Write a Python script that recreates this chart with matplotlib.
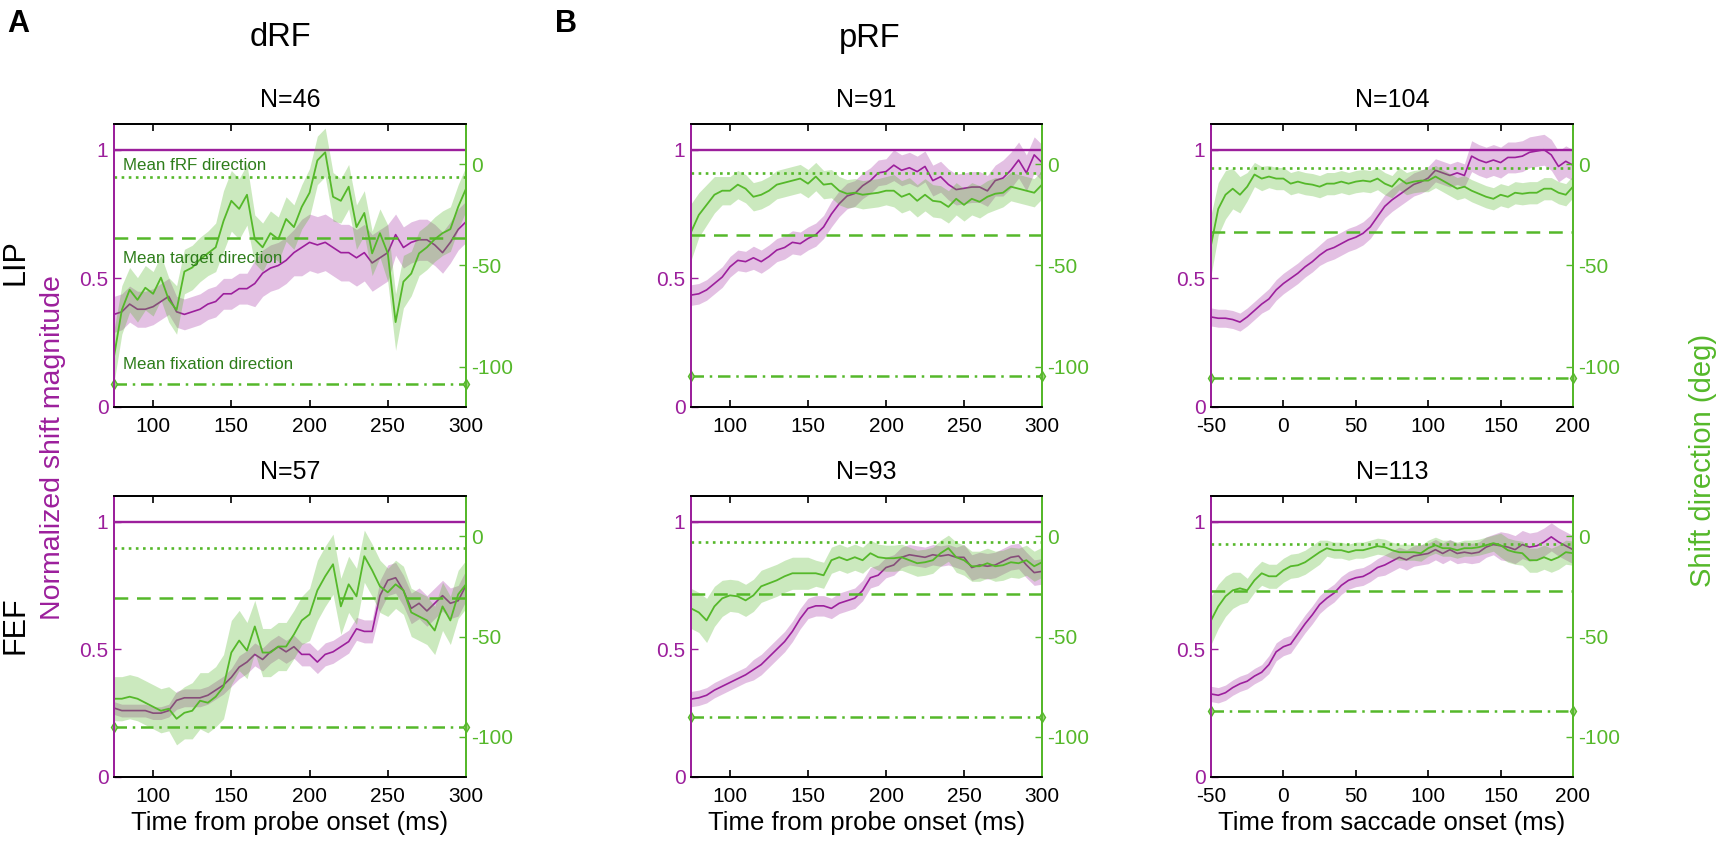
import numpy as np
import matplotlib
matplotlib.use("Agg")
import matplotlib.pyplot as plt

plt.rcParams['font.family'] = ['Liberation Sans', 'DejaVu Sans']
plt.rcParams['axes.unicode_minus'] = False

# ---------------- data ----------------
t_probe = np.arange(75, 301, 5)
t_sacc = np.arange(-50, 201, 5)

# dRF LIP (N=46)
drf_lip_mag = [.36, .37, .40, .38, .38, .39, .41, .43, .37, .36, .37, .38, .40, .41, .44, .44,
               .46, .46, .48, .52, .54, .55, .57, .60, .62, .64, .63, .64, .62, .60, .60, .58,
               .60, .56, .58, .60, .67, .62, .64, .65, .65, .63, .60, .64, .69, .72]
drf_lip_mag_err = [.07, .07, .07, .07, .07, .07, .07, .07, .06, .06, .06, .06, .06, .06, .06, .06,
                   .06, .06, .09, .09, .09, .09, .09, .09, .11, .11, .11, .11, .11, .11, .11, .11,
                   .11, .11, .11, .11, .08, .08, .08, .08, .08, .08, .08, .08, .08, .08]
drf_lip_dir = [-95, -72, -62, -67, -61, -64, -56, -67, -72, -53, -51, -47, -44, -41, -28, -18,
               -22, -15, -37, -41, -34, -37, -27, -31, -21, -14, 2, 6, -16, -18, -11, -31,
               -24, -44, -34, -44, -78, -58, -54, -44, -41, -37, -34, -32, -21, -12]
drf_lip_dir_err = [13, 12, 11, 11, 11, 11, 11, 11, 12, 11, 11, 11, 11, 12, 15, 15,
                   15, 15, 12, 12, 11, 11, 11, 11, 11, 12, 12, 12, 12, 11, 11, 11,
                   11, 11, 12, 14, 14, 13, 11, 11, 11, 11, 11, 11, 11, 11]

# dRF FEF (N=57)
drf_fef_mag = [.27, .26, .26, .26, .26, .25, .25, .26, .30, .31, .31, .31, .32, .34, .36, .39,
               .43, .45, .48, .46, .49, .51, .49, .51, .48, .48, .45, .48, .49, .51, .53, .58,
               .57, .57, .71, .77, .78, .73, .66, .68, .65, .68, .71, .68, .69, .75]
drf_fef_mag_err = [.025, .025, .025, .025, .025, .025, .025, .025, .035, .035, .035, .035, .035, .035, .035, .035,
                   .045, .045, .045, .045, .045, .045, .045, .045, .045, .045, .045, .045, .045, .045, .045, .045,
                   .045, .045, .06, .06, .06, .06, .06, .06, .06, .06, .06, .06, .06, .06]
drf_fef_dir = [-81, -81, -80, -81, -83, -85, -87, -86, -91, -88, -87, -82, -83, -80, -75, -58,
               -52, -57, -45, -58, -58, -55, -55, -49, -42, -39, -27, -20, -14, -35, -24, -30,
               -10, -17, -25, -28, -24, -27, -38, -40, -42, -47, -35, -42, -29, -24]
drf_fef_dir_err = [11, 11, 11, 11, 11, 11, 11, 11, 13, 13, 14, 14, 15, 15, 16, 16,
                   15, 14, 13, 12, 12, 12, 12, 12, 12, 13, 15, 15, 15, 14, 14, 14,
                   13, 13, 13, 12, 12, 12, 12, 12, 12, 12, 12, 12, 12, 12]

# pRF LIP, probe aligned (N=91)
prf_lip_p_mag = [.435, .44, .455, .48, .505, .545, .57, .565, .58, .565, .585, .61, .62, .64, .635, .655,
                 .67, .70, .75, .79, .82, .83, .86, .88, .91, .915, .94, .92, .93, .915, .935, .88,
                 .895, .865, .845, .85, .855, .855, .84, .88, .89, .92, .96, .91, .98, .95]
prf_lip_p_mag_err = [.04, .04, .04, .04, .04, .04, .04, .04, .045, .045, .045, .045, .045, .045, .045, .045,
                     .045, .045, .05, .05, .05, .05, .05, .05, .05, .05, .06, .06, .06, .06, .06, .06,
                     .06, .06, .06, .06, .06, .06, .06, .06, .07, .07, .07, .07, .07, .07]
prf_lip_p_dir = [-33.5, -25, -20, -15, -13, -13, -10, -12, -16, -15, -13, -10, -9, -8, -7, -9.5,
                 -6, -10, -9.5, -13, -14.5, -14, -15, -14.5, -14, -13, -13, -16, -14.5, -18, -15, -18,
                 -18.5, -21, -17, -20, -17, -18.5, -16, -14.5, -14, -11, -12, -13, -14, -10]
prf_lip_p_dir_err = [14, 11, 10, 9, 7, 7, 7, 7, 7, 7, 7, 7, 7, 7, 7, 7,
                     7, 7, 7, 7, 7, 7, 7, 7, 7, 7, 8, 8, 8, 8, 8, 8,
                     8, 8, 8, 8, 8, 8, 8, 8, 7, 7, 7, 7, 7, 7]

# pRF LIP, saccade aligned (N=104)
prf_lip_s_mag = [.35, .345, .345, .34, .33, .35, .375, .40, .42, .455, .48, .50, .52, .545, .565, .59,
                 .61, .62, .635, .65, .66, .675, .70, .74, .78, .805, .825, .845, .865, .875, .89, .92,
                 .91, .90, .91, .90, .975, .96, .95, .96, .95, .97, .97, .975, .99, .995, 1.0, .98,
                 .935, .955, .94]
prf_lip_s_mag_err = [.035, .035, .035, .035, .035, .035, .035, .035, .04, .04, .04, .04, .04, .04, .04, .04,
                     .045, .045, .045, .045, .045, .045, .045, .045, .045, .045, .045, .045, .045, .045, .045, .045,
                     .045, .045, .045, .045, .06, .06, .06, .06, .06, .06, .06, .06, .06, .06, .06, .06,
                     .06, .06, .06]
prf_lip_s_dir = [-40, -22, -15, -12, -15, -11, -5, -7, -6, -7, -7, -9.5, -8.5, -9.5, -10, -11,
                 -9.5, -9.5, -8.5, -9.5, -8.5, -8, -8.5, -7, -9.5, -11, -7, -9.5, -8.5, -8, -8, -6,
                 -8, -10, -12, -11, -13, -14.5, -16, -17, -15, -16, -14, -14.5, -14, -14, -12, -12,
                 -14, -15, -11]
prf_lip_s_dir_err = [15, 13, 12, 10, 9, 7, 6, 6, 5.5, 5.5, 5.5, 5.5, 5.5, 5.5, 5.5, 5.5,
                     5.5, 5.5, 5.5, 5.5, 5.5, 5.5, 5.5, 5.5, 5.5, 5.5, 5.5, 5.5, 5.5, 5.5, 5.5, 5.5,
                     5.5, 5.5, 5.5, 5.5, 5.5, 5.5, 5.5, 5.5, 5.5, 5.5, 5.5, 5.5, 5.5, 5.5, 5.5, 5.5,
                     5.5, 5.5, 5.5]

# pRF FEF, probe aligned (N=93)
prf_fef_p_mag = [.305, .31, .32, .34, .355, .37, .385, .40, .42, .44, .47, .50, .53, .57, .62, .66,
                 .67, .67, .66, .68, .69, .70, .73, .78, .79, .82, .83, .86, .87, .865, .86, .87,
                 .865, .87, .86, .86, .82, .83, .825, .83, .845, .86, .865, .83, .80, .805]
prf_fef_p_mag_err = [.03, .03, .03, .03, .03, .03, .03, .03, .04, .04, .04, .04, .04, .04, .04, .04,
                     .04, .04, .04, .04, .04, .04, .04, .04, .04, .04, .04, .04, .04, .04, .04, .04,
                     .04, .04, .04, .05, .05, .05, .05, .05, .05, .05, .05, .05, .05, .05]
prf_fef_p_dir = [-36, -38, -42, -35, -31, -29.5, -30, -32, -29.5, -25, -23.5, -22, -20, -18.5, -18.5, -18.5,
                 -18.5, -19.5, -12, -10.5, -12, -10.5, -12, -8.5, -10.5, -11, -11, -10.5, -12, -13.5, -13, -12,
                 -8.5, -6, -10.5, -12, -15, -15, -13.5, -15, -14.5, -13, -13.5, -12, -15, -13]
prf_fef_p_dir_err = [10, 10, 11, 10, 9, 8, 8, 8, 8, 8, 8, 8, 8, 8, 8, 8,
                     6.5, 6.5, 6.5, 6.5, 6.5, 6.5, 6.5, 6.5, 6.5, 6.5, 6.5, 6.5, 6.5, 6.5, 6.5, 6.5,
                     6.5, 6.5, 7.5, 7.5, 7.5, 7.5, 7.5, 7.5, 7.5, 7.5, 7.5, 7.5, 7.5, 7.5]

# pRF FEF, saccade aligned (N=113)
prf_fef_s_mag = [.325, .32, .33, .35, .365, .375, .395, .41, .44, .49, .51, .52, .56, .60, .635, .675,
                 .70, .72, .75, .77, .78, .785, .80, .82, .83, .845, .86, .85, .865, .87, .875, .89,
                 .875, .89, .875, .88, .875, .88, .90, .91, .905, .90, .89, .91, .90, .905, .92, .94,
                 .92, .905, .89]
prf_fef_s_mag_err = [.03, .03, .03, .03, .03, .03, .03, .03, .035, .035, .035, .035, .035, .035, .035, .035,
                     .035, .035, .035, .035, .035, .035, .035, .035, .04, .04, .04, .04, .04, .04, .04, .04,
                     .04, .04, .04, .04, .04, .04, .04, .04, .055, .055, .055, .055, .055, .055, .055, .055,
                     .055, .055, .055]
prf_fef_s_dir = [-42, -35, -30, -27, -26, -27, -22, -18.5, -20, -20, -17, -15, -14.5, -13, -10.5, -8,
                 -6, -7, -7, -8, -7, -7, -6, -5, -5.5, -7, -8, -8, -8, -8.5, -6, -4.5,
                 -6, -6, -7, -6, -6, -5.5, -4.5, -3.5, -4.5, -7, -8, -8.5, -12, -12, -10.5, -12,
                 -10.5, -8, -8.5]
prf_fef_s_dir_err = [12, 11, 10, 9, 8, 6, 6, 6, 6, 6, 6, 6, 6, 6, 6, 6,
                     4, 4, 4, 4, 4, 4, 4, 4, 4, 4, 4, 4, 4, 4, 4, 4,
                     4, 4, 4, 4, 4, 4, 4, 4, 6, 6, 6, 6, 6, 6, 6, 6,
                     6, 6, 6]

# reference directions (deg) per panel: LIP-dRF, LIP-pRF probe, LIP-pRF sacc, FEF-dRF, FEF-pRF probe, FEF-pRF sacc
frf_dir = [-6.4, -4, -2, -6, -3, -4]
target_dir = [-36.5, -35, -33.5, -31, -29, -27.5]
fixation_dir = [-108.4, -104.5, -105.5, -95, -90, -87]

titles = ['N=46', 'N=91', 'N=104', 'N=57', 'N=93', 'N=113']
probe_ticks = [100, 150, 200, 250, 300]
sacc_ticks = [-50, 0, 50, 100, 150, 200]
mag_ticks = [0, 0.5, 1]
dir_ticks = [-100, -50, 0]
annotations = ['Mean fRF direction', 'Mean target direction', 'Mean fixation direction']
annotation_y = [-0.5, -46.5, -99]

# ---------------- style ----------------
MAG = '#9c1f9c'
GRN = '#55b82a'
TXTG = '#2d7d1a'
W, H = 1723, 850

fig = plt.figure(figsize=(W / 100, H / 100), dpi=100)

cols = [(114, 466), (691, 1042), (1211, 1573)]
rows = [(124, 407), (496, 777)]

panel_data = [
    (t_probe, drf_lip_mag, drf_lip_mag_err, drf_lip_dir, drf_lip_dir_err),
    (t_probe, prf_lip_p_mag, prf_lip_p_mag_err, prf_lip_p_dir, prf_lip_p_dir_err),
    (t_sacc, prf_lip_s_mag, prf_lip_s_mag_err, prf_lip_s_dir, prf_lip_s_dir_err),
    (t_probe, drf_fef_mag, drf_fef_mag_err, drf_fef_dir, drf_fef_dir_err),
    (t_probe, prf_fef_p_mag, prf_fef_p_mag_err, prf_fef_p_dir, prf_fef_p_dir_err),
    (t_sacc, prf_fef_s_mag, prf_fef_s_mag_err, prf_fef_s_dir, prf_fef_s_dir_err),
]
xlabels = ['Time from probe onset (ms)', 'Time from probe onset (ms)', 'Time from saccade onset (ms)']

for i, (t, mag, mag_err, d, d_err) in enumerate(panel_data):
    r, c = divmod(i, 3)
    x0p, x1p = cols[c]
    y0p, y1p = rows[r]
    ax = fig.add_axes([x0p / W, 1 - y1p / H, (x1p - x0p) / W, (y1p - y0p) / H])
    mag = np.asarray(mag); mag_err = np.asarray(mag_err)
    d = np.asarray(d); d_err = np.asarray(d_err)
    xmin, xmax = (75, 300) if c < 2 else (-50, 200)
    ax.set_xlim(xmin, xmax)
    ax.set_ylim(0, 1.1)
    ax2 = ax.twinx()
    ax2.set_ylim(-120, 20)

    ax.fill_between(t, mag - mag_err, mag + mag_err, color=MAG, alpha=0.28, lw=0)
    ax.plot(t, mag, color=MAG, lw=1.2)
    ax.axhline(1, color=MAG, lw=1.7)

    ax2.fill_between(t, d - d_err, d + d_err, color=GRN, alpha=0.30, lw=0)
    ax2.plot(t, d, color=GRN, lw=1.3)
    ax2.axhline(frf_dir[i], color=GRN, lw=1.9, ls=(0, (1, 1.7)))
    ax2.axhline(target_dir[i], color=GRN, lw=1.8, ls=(0, (5.5, 3.5)))
    ax2.plot([xmin, xmax], [fixation_dir[i], fixation_dir[i]], color=GRN, lw=1.8,
             ls=(0, (5, 2.3, 1, 2.3)), marker='d', ms=5, mfc='#9fd27f', mec=GRN, clip_on=False)

    ax.set_xticks(probe_ticks if c < 2 else sacc_ticks)
    ax.set_yticks(mag_ticks)
    ax.set_yticklabels(['0', '0.5', '1'])
    ax2.set_yticks(dir_ticks)

    ax.tick_params(axis='x', direction='in', top=True, length=5, width=1.2,
                   colors='black', labelsize=15, pad=7)
    ax.tick_params(axis='y', direction='in', length=5, width=1.0, colors=MAG,
                   labelsize=15, pad=4)
    ax2.tick_params(axis='y', direction='in', length=5, width=1.0, colors=GRN,
                    labelsize=15, pad=4)
    for a in (ax, ax2):
        a.spines['left'].set_color(MAG)
        a.spines['right'].set_color(GRN)
        a.spines['top'].set_color('black')
        a.spines['bottom'].set_color('black')
        for s in a.spines.values():
            s.set_linewidth(1.3)

    ax.set_title(titles[i], fontsize=18, pad=12)
    if r == 1:
        ax.set_xlabel(xlabels[c], fontsize=18.5, labelpad=4)

    if i == 0:
        for txt, yy in zip(annotations, annotation_y):
            ax2.text(80.5, yy, txt, color=TXTG, fontsize=12.2, ha='left', va='center')

# figure-level labels
fig.text(7 / W, 1 - 9 / H, 'A', fontsize=22, fontweight='bold', ha='left', va='top')
fig.text(555 / W, 1 - 9 / H, 'B', fontsize=22, fontweight='bold', ha='left', va='top')
fig.text(280 / W, 1 - 38 / H, 'dRF', fontsize=23.5, ha='center', va='center')
fig.text(870 / W, 1 - 38 / H, 'pRF', fontsize=23.5, ha='center', va='center')
fig.text(16 / W, 1 - 262 / H, 'LIP', fontsize=22, rotation=90, ha='center', va='center')
fig.text(16 / W, 1 - 625 / H, 'FEF', fontsize=22, rotation=90, ha='center', va='center')
fig.text(53 / W, 1 - 448 / H, 'Normalized shift magnitude', color=MAG, fontsize=20.5,
         rotation=90, ha='center', va='center')
fig.text(1703 / W, 1 - 460 / H, 'Shift direction (deg)', color=GRN, fontsize=21,
         rotation=90, ha='center', va='center')

fig.savefig('out.png', dpi=100)
